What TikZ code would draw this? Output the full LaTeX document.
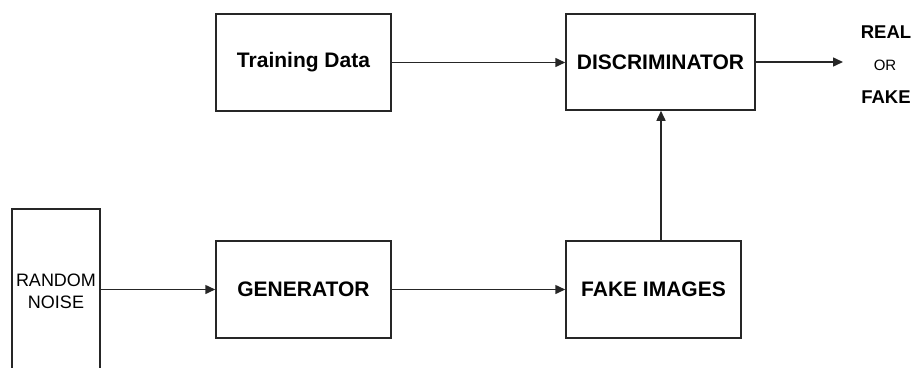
\documentclass[tikz,border=0pt]{standalone}
\usepackage{fontspec}
\setmainfont{Liberation Sans}
\usetikzlibrary{arrows.meta}
\begin{document}
\begin{tikzpicture}[x=1pt,y=-1pt,
  box/.style={draw=black!85, line width=1.5pt, inner sep=0pt, minimum width=175pt, minimum height=97pt, font=\fontsize{21}{24}\selectfont\bfseries},
  conn/.style={draw=black!85, line width=1.5pt, -{Triangle[length=10pt,width=9pt]}},
  outtxt/.style={inner sep=0pt, anchor=center}]
\useasboundingbox (0,0) rectangle (916,367);
\clip (0,0) rectangle (916,367);
\node[box] (td) at (303.5,62.5) {Training Data};
\node[box, minimum width=189pt, minimum height=96pt] (disc) at (660.5,62) {DISCRIMINATOR};
\node[box] (gen) at (303.5,289.5) {GENERATOR};
\node[box] (fake) at (653.5,289.5) {FAKE IMAGES};
\node[box, minimum width=88pt, minimum height=164pt, align=center, font=\fontsize{18}{22}\selectfont] (rn) at (56,291) {RANDOM\\NOISE};
\coordinate (out) at (843,62);
\node[outtxt, font=\fontsize{18.5}{20}\selectfont\bfseries] (real) at (886,32) {REAL};
\node[outtxt, font=\fontsize{15}{18}\selectfont] (or) at (885,65) {OR};
\node[outtxt, font=\fontsize{18.5}{20}\selectfont\bfseries] (fk) at (886,97) {FAKE};
\draw[conn] (td.east) -- (disc.west |- td.east);
\draw[conn] (disc.east) -- (out);
\draw[conn] (rn.east |- gen.west) -- (gen.west);
\draw[conn] (gen.east) -- (fake.west);
\draw[conn] (fake.north -| 661,0) -- (disc.south -| 661,0);
\end{tikzpicture}
\end{document}
